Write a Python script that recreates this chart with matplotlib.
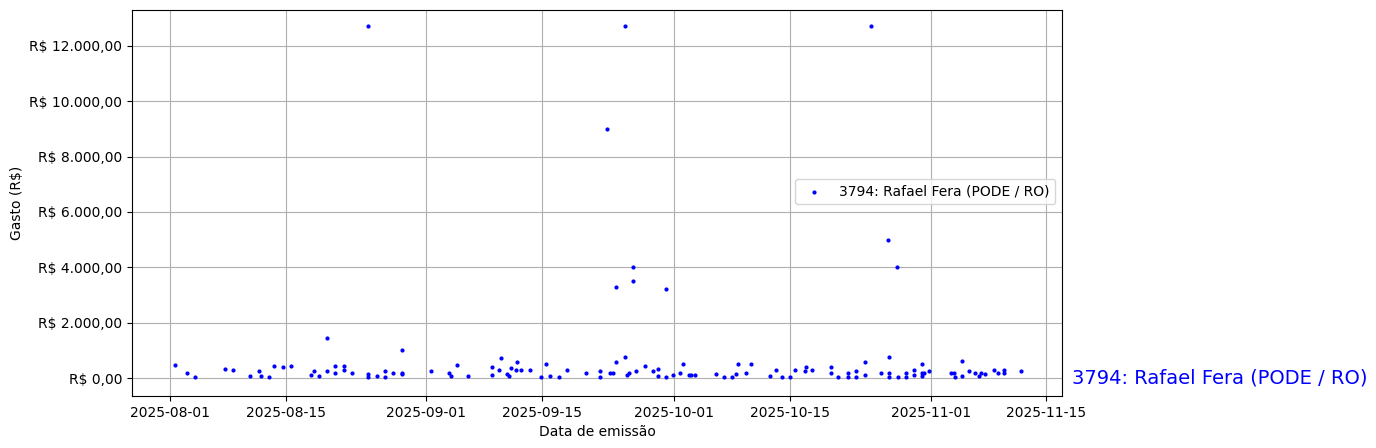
import matplotlib
matplotlib.use("Agg")
import matplotlib.pyplot as plt
import matplotlib.dates as mdates
from matplotlib.ticker import FuncFormatter
import pandas as pd

start = "2025-08-01"
days = [0.6,2,3,6.7,7.6,9.7,10.8,11,12,12.6,13.7,14.6,17,17.4,18,19,19,20,20,21,21,22,24,24,25,26,26,27,28,28,28,24,
        31.6,33.8,34,34.7,36,39,39,40,39.8,40.7,41,41.3,41.8,42,42.4,43.5,44.9,45.5,46,47,48,50.3,52,52,
        53.2,53.6,54,55,55.3,55.5,56.4,57.5,58.4,59,59,60,60.8,61.7,62,62.8,63,63.5,66,67,68,68.4,68.7,69.7,70.3,
        72.6,73.3,74,75,75.6,76.8,76.9,77.6,79.9,79.9,80.8,82,82,83,83,84,84,86,87,87,87,88,89,89,90,90,91,91,91,91.2,91.8,
        94.5,94.8,94.9,95.8,95.8,96.6,97.4,97.9,98.1,98.6,99.7,100.2,100.9,100.9,102.9,
        52.8,55,54,56,56,60,84.8,86.8,87.9]
values = [470,200,30,330,290,70,250,70,30,430,400,430,100,250,70,1450,250,430,200,430,290,200,140,30,70,250,30,200,1000,200,140,12700,
          250,200,70,470,70,400,100,720,290,140,70,360,290,580,290,290,30,500,70,30,290,200,250,30,
          200,200,580,760,100,170,250,430,250,330,70,30,100,170,500,100,100,100,140,30,30,140,500,170,500,
          70,290,30,30,290,250,400,290,400,200,30,200,30,250,30,580,100,200,760,170,30,30,200,30,290,100,500,200,70,200,250,
          200,170,30,610,70,250,200,70,200,140,290,200,290,170,250,
          9000,12700,3300,4000,3500,3200,12700,5000,4000]
label = "3794: Rafael Fera (PODE / RO)"

dates = pd.Timestamp(start) + pd.to_timedelta(days, unit="D")

fig = plt.figure(figsize=(13.76, 4.48), dpi=100)
ax = fig.add_axes([0.096, 0.116, 0.676, 0.862])
ax.scatter(dates, values, s=4, color="blue", label=label, zorder=3)
ax.grid(True, color="#b0b0b0")
ax.set_axisbelow(True)
ax.set_xlim(pd.Timestamp("2025-07-27 10:00"), pd.Timestamp("2025-11-16 22:00"))
ax.set_ylim(-650, 13300)
ax.set_xticks(pd.to_datetime(["2025-08-01","2025-08-15","2025-09-01","2025-09-15","2025-10-01","2025-10-15","2025-11-01","2025-11-15"]))
ax.xaxis.set_major_formatter(mdates.DateFormatter("%Y-%m-%d"))
ax.set_yticks(range(0, 12001, 2000))
ax.yaxis.set_major_formatter(FuncFormatter(lambda v, p: "R$ " + f"{v:,.2f}".replace(",", "X").replace(".", ",").replace("X", ".")))
ax.set_xlabel("Data de emissão")
ax.set_ylabel("Gasto (R$)")
ax.legend(loc="center right", bbox_to_anchor=(1.0, 0.53))
ax.text(1.01, 0, label, transform=ax.get_yaxis_transform(), color="blue", fontsize=14, va="center", ha="left")
fig.savefig("out.png", dpi=100)
